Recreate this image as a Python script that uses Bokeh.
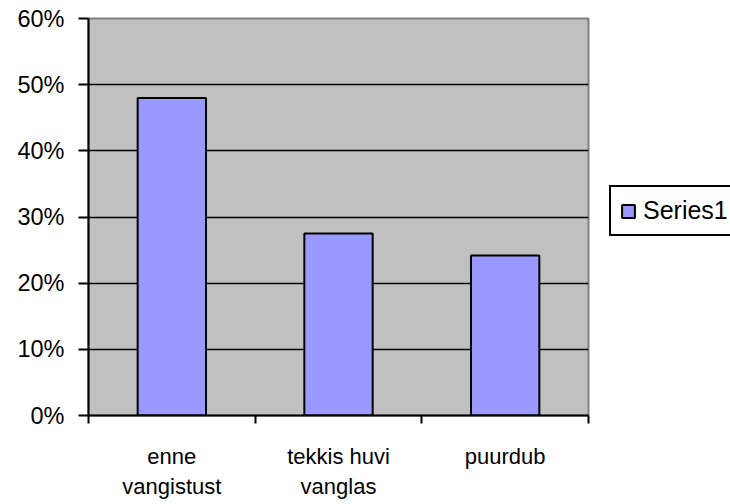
from bokeh.plotting import figure
from bokeh.models import (Range1d, FixedTicker, NumeralTickFormatter, Legend,
                          LegendItem, ColumnDataSource)
from bokeh.embed import file_html
from bokeh.resources import INLINE

# data
categories = ["enne\nvangistust", "tekkis huvi\nvanglas", "puurdub"]
positions = [0.5, 1.5, 2.5]
values = [0.48, 0.275, 0.242]
y_ticks = [0.0, 0.1, 0.2, 0.3, 0.4, 0.5, 0.6]
grid_ticks = [0.1, 0.2, 0.3, 0.4, 0.5]
boundaries = [0, 1, 2, 3]
series_name = "Series1"

FONT = "Liberation Sans"

p = figure(width=730, height=500, output_backend="svg", toolbar_location=None,
           x_range=Range1d(0, 3), y_range=Range1d(0, 0.6),
           min_border_left=88, min_border_right=142, min_border_top=18,
           min_border_bottom=85)
p.frame_width = 500
p.frame_height = 397

p.background_fill_color = "#C0C0C0"
p.border_fill_color = "white"
p.outline_line_color = "#808080"
p.outline_line_width = 2

src = ColumnDataSource(dict(x=positions, top=values))
bars = p.vbar(x="x", top="top", width=0.41, source=src,
              fill_color="#9999FF", line_color="black", line_width=2)

# y axis
p.yaxis.ticker = FixedTicker(ticks=y_ticks)
p.yaxis.formatter = NumeralTickFormatter(format="0%")
p.yaxis.major_tick_out = 10
p.yaxis.major_tick_in = 0
p.yaxis.minor_tick_line_color = None
p.yaxis.axis_line_color = "black"
p.yaxis.axis_line_width = 2
p.yaxis.major_tick_line_width = 2
p.yaxis.major_label_text_font = FONT
p.yaxis.major_label_text_font_size = "23.5px"
p.yaxis.major_label_text_color = "black"
p.yaxis.major_label_standoff = 14

# x axis
p.xaxis.ticker = FixedTicker(ticks=positions, minor_ticks=boundaries)
p.xaxis.major_label_overrides = {pos: c for pos, c in zip(positions, categories)}
p.xaxis.major_tick_out = 0
p.xaxis.major_tick_in = 0
p.xaxis.minor_tick_out = 8
p.xaxis.minor_tick_in = 0
p.xaxis.minor_tick_line_color = "black"
p.xaxis.minor_tick_line_width = 2
p.xaxis.axis_line_color = "black"
p.xaxis.axis_line_width = 2
p.xaxis.major_label_text_font = FONT
p.xaxis.major_label_text_font_size = "22px"
p.xaxis.major_label_text_color = "black"
p.xaxis.major_label_text_line_height = 1.2
p.xaxis.major_label_standoff = 20

p.xgrid.grid_line_color = None
p.ygrid.ticker = FixedTicker(ticks=grid_ticks)
p.ygrid.grid_line_color = "black"
p.ygrid.grid_line_width = 1.5
p.ygrid.grid_line_alpha = 1

legend = Legend(items=[LegendItem(label=series_name, renderers=[bars])],
                location=(21, 179), margin=0, padding=9,
                glyph_width=16, glyph_height=16, label_standoff=7,
                label_text_font=FONT, label_text_font_size="25px",
                label_text_color="black",
                border_line_color="black", border_line_width=2,
                border_line_alpha=1,
                background_fill_color="white", background_fill_alpha=1)
p.add_layout(legend, "right")

open("out.html", "w").write(file_html(p, INLINE))
